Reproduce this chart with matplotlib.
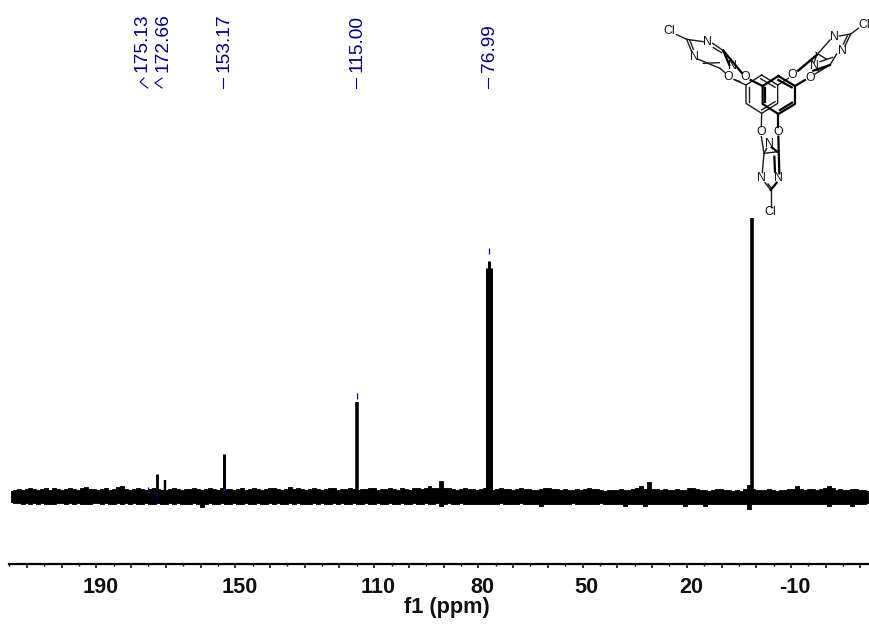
import numpy as np
import matplotlib
matplotlib.use("Agg")
import matplotlib.pyplot as plt
from matplotlib.transforms import ScaledTranslation

# ---- data (intensity in arbitrary units, ppm on x) ----
noise_upper = [5,6,7,6,7,8,7,6, 7,8,6,8,7,6,7,8, 7,6,8,9,7,7,6,7, 8,6,7,9,10,7,6,7,
               8,7,6,7,8,7,6,6, 7,8,7,6,7,7,8,7, 6,7,8,7,6,8,7,7, 6,7,8,6,7,8,7,6,
               7,8,8,7,6,7,9,7, 8,7,6,7,8,7,6,7, 8,8,6,7,7,8,7,6, 7,7,8,8,6,7,7,8,
               7,6,8,7,6,8,8,7, 8,10,8,8,14.5,8,8,7, 6,7,8,7,7,6,7,8, 7,6,7,8,7,7,6,7,
               8,7,7,6,6,7,8,8, 7,7,6,7,6,6,7,6, 7,8,7,7,6,5,6,6, 6,7,6,6,7,8,10,7,
               13.5,7,7,6,7,6,6,7, 6,6,8,8,7,6,6,5, 6,7,7,6,6,5,6,5, 7,11,7,6,6,6,7,6,
               5,6,6,7,7,9.5,7,6, 7,7,6,7,8,10,8,6, 7,6,6,7,7,6,6,5]
noise_lower = [-6,-7,-7,-8,-7,-8,-7,-8, -7,-8,-8,-8.5,-7,-7,-8,-7, -8,-7,-8,-8.5,-8,-7,-7,-8, -7,-8.5,-8,-7,-8,-7,-8,-7,
               -8,-8.5,-7,-8,-8,-7,-8.5,-8, -7,-8,-7,-8,-8.5,-8,-7,-8, -11.5,-8,-7,-8,-8.5,-7,-8,-8, -7,-8.5,-8,-7,-8,-8.5,-7,-8,
               -8,-7,-8.5,-7,-8,-8,-7,-8.5, -7,-8,-8,-8.5,-7,-8,-7,-8, -8.5,-7,-8,-7,-8.5,-8,-7,-8, -8,-7,-8.5,-8,-7,-8,-8.5,-7,
               -8,-8.5,-7,-8,-8,-7,-8.5,-8, -7,-8,-8.5,-7,-10,-8,-7,-8, -8.5,-7,-8,-8,-8.5,-8,-8,-8.5, -8,-8.5,-8,-7,-8.5,-8,-8.5,-8,
               -7,-8.5,-8,-8,-8.5,-10,-8,-8.5, -8,-8.5,-8,-8.5,-8,-7,-8.5,-8, -8.5,-8,-8.5,-8,-7,-8.5,-8,-8.5, -8,-8.5,-10,-8,-8.5,-8,-8.5,-10,
               -8,-8.5,-8,-8.5,-8.5,-8,-8.5,-8, -8.5,-10,-8,-8.5,-8,-8.5,-10,-8.5, -8,-8.5,-8,-8.5,-8,-8.5,-8,-8.5, -8.5,-13,-8.5,-8.5,-8,-8.5,-8,-8.5,
               -8.5,-8,-8.5,-8,-8.5,-8,-8.5,-8.5, -8,-8.5,-8,-8.5,-8,-10,-8.5,-8, -8.5,-8,-8.5,-10,-8,-8.5,-8,-7]
peak_ppm    = [172.66, 170.14, 153.17, 115.00, 77.60, 76.99, 76.38, 1.20]
peak_height = [21.5, 15.5, 41.5, 93.5, 227.5, 234.5, 227.5, 277.5]
peak_widths = [2.8, 2.4, 3.0, 3.6, 3.0, 3.0, 3.0, 3.6]

label_values = ["175.13", "172.66", "153.17", "115.00", "76.99"]
label_ppm    = [175.13, 172.66, 153.17, 115.00, 76.99]
label_mark_base = [2.5, -2.5, 2.5, 96.5, 241.5]

tick_vals   = [190, 150, 110, 80, 50, 20, -10]
major_ticks = list(range(210, -40, -10))
minor_ticks = list(range(215, -35, -10))
xlabel_text = "f1 (ppm)"

PPM_LEFT, PPM_RIGHT = 214.9, -32.9
BLUE = "#00007f"
FONT = "Liberation Sans"
plt.rcParams["font.family"] = FONT

fig = plt.figure(figsize=(8.7, 6.24), dpi=100)
ax = fig.add_axes([9.5/870, 1-564/624, 861/870, 564/624])
ax.set_xlim(PPM_LEFT, PPM_RIGHT)
ax.set_ylim(-68.5, 495.5)

grid = np.linspace(214.7, -32.3, len(noise_upper))
ax.fill_between(grid, noise_lower, noise_upper, step="mid", color="black", lw=0.6)
for p, h, w in zip(peak_ppm, peak_height, peak_widths):
    ax.plot([p, p], [0, h], color="black", lw=w*0.72, solid_capstyle="butt")
for p, b in zip(label_ppm, label_mark_base):
    ax.plot([p, p], [b, b + 6.5], color=BLUE, lw=0.9, solid_capstyle="butt", zorder=5)

for s in ("top", "left", "right"):
    ax.spines[s].set_visible(False)
ax.spines["bottom"].set_linewidth(1.6)
ax.patch.set_alpha(0)
ax.set_yticks([])
ax.set_xticks(major_ticks)
ax.set_xticks(minor_ticks, minor=True)
ax.tick_params(axis="x", which="major", length=3.0, width=1.1, pad=6.5)
ax.tick_params(axis="x", which="minor", length=1.6, width=1.0)
labels = [str(t) if t in tick_vals else "" for t in major_ticks]
ax.set_xticklabels(labels, fontsize=15.6, fontweight="bold", color="#111111")
off = ScaledTranslation(4/100, 0, fig.dpi_scale_trans)
for t in ax.get_xticklabels():
    t.set_transform(t.get_transform() + off)
ax.set_xlabel(xlabel_text, fontsize=15.6, fontweight="bold", color="#111111", va="center")
ax.xaxis.set_label_coords(437/861, -44/564)

# overlay in pixel coordinates for the annotations and the structure
ov = fig.add_axes([0, 0, 1, 1])
ov.set_xlim(0, 870); ov.set_ylim(624, 0); ov.axis("off"); ov.patch.set_alpha(0)

text_x = [142.5, 163.5, 224.5, 357.5, 489.5]
for s, x in zip(label_values, text_x):
    ov.text(x, 71.5, s, rotation=90, ha="center", va="bottom", color=BLUE, fontsize=13.8)
leaders = [[(144, 78), (140, 82), (147.7, 88)], [(162, 78), (155, 83), (162, 88)],
           [(223.5, 78), (223.5, 88)], [(356, 78), (356, 88)], [(488.5, 78), (488.5, 88)]]
for pts in leaders:
    xs, ys = zip(*pts)
    ov.plot(xs, ys, color=BLUE, lw=0.8)

# chemical structure, traced in crop coordinates (crop origin 640,0, scale 3)
def z(pts):
    a = np.array(pts, float)
    return 640 + a[:, 0]/3, a[:, 1]/3

thin = [
    [(365,225),(413,255),(413,310),(365,340),(318,310),(318,255),(365,225)],
    [(362,236),(405,262)], [(405,305),(365,330)], [(326,305),(326,260)],
    [(365,340),(364,380)], [(285,240),(318,255)], [(413,255),(445,235)],
    [(364,410),(372,460)], [(372,460),(367,518)], [(372,460),(380,445)],
    [(372,460),(415,455)],
    [(375,548),(392,570)], [(384,552),(394,564)], [(392,570),(392,620)],
    [(140,118),(190,125)], [(140,118),(155,155)], [(150,122),(160,148)],
    [(218,130),(250,152)], [(220,143),(245,158)],
    [(175,178),(240,205)], [(190,190),(238,188)],
    [(240,205),(255,218)], [(282,238),(300,245)],
    [(110,104),(140,118)],
    [(632,102),(655,85)], [(632,102),(598,108)], [(632,102),(615,138)], [(622,108),(610,132)],
    [(570,120),(530,165)], [(590,162),(570,195)], [(578,172),(540,185)],
    [(530,165),(472,212)], [(570,195),(525,222)],
    [(530,165),(522,188)], [(532,212),(570,195)], [(560,178),(528,158)],
]
bold = [
    [(415,228),(465,258),(465,312),(415,342),(368,312),(368,258),(415,228)],
    [(375,265),(375,305)], [(420,330),(456,308)], [(415,240),(455,262)],
    [(415,342),(415,382)], [(332,240),(368,258)], [(465,258),(495,240)],
    [(415,410),(418,520)], [(403,470),(405,515)], [(395,442),(412,455)],
    [(410,548),(392,570)],
    [(250,152),(305,218)], [(250,152),(268,195)],
    [(520,212),(570,195)], [(475,212),(530,165)],
]
for seg in thin:
    ov.plot(*z(seg), color="#1a1a1a", lw=1.0)
for seg in bold:
    ov.plot(*z(seg), color="black", lw=1.6)

atoms = [("Cl",88,92),("N",203,127),("N",162,170),("N",276,199),("O",264,232),("O",316,232),
         ("Cl",672,75),("N",583,112),("N",607,153),("N",522,198),("O",458,225),("O",510,233),
         ("O",364,395),("O",415,397),("N",388,432),("N",364,533),("N",416,533),("Cl",392,635)]
for s, x, y in atoms:
    ov.text(640 + x/3, y/3, s, ha="center", va="center", fontsize=8.8, color="#111111")

fig.savefig("out.png", dpi=100)
